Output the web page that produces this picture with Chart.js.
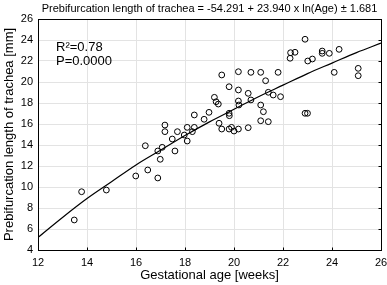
<!DOCTYPE html>
<html>
<head>
<meta charset="utf-8">
<script src="https://cdn.jsdelivr.net/npm/chart.js@4/dist/chart.umd.min.js"></script>
<style>
html,body{margin:0;padding:0;background:#fff;}
#wrap{width:387px;height:285px;}
</style>
</head>
<body>
<div id="wrap"><canvas id="c" width="387" height="285"></canvas></div>
<script>
// Observed data (gestational age in weeks, prebifurcation length in mm)
const ages = [13.48,13.78,14.79,15.99,16.38,16.48,16.89,16.99,16.89,17.07,17.18,17.18,17.48,17.59,17.69,17.97,18.09,18.09,18.30,18.38,18.38,18.78,18.98,19.2,19.27,19.36,19.39,19.5,19.5,19.8,19.8,19.81,19.8,19.9,20.0,20.18,20.18,20.18,20.18,20.2,20.58,20.58,20.69,20.69,21.09,21.09,21.09,21.2,21.29,21.4,21.4,21.6,21.8,21.9,22.29,22.31,22.49,22.9,22.9,23.0,23.01,23.2,23.6,23.6,23.89,24.29,24.09,25.07,25.07];
const lengths = [6.86,9.55,9.71,11.05,13.93,11.62,10.86,12.64,13.43,13.78,15.9,15.27,14.57,13.43,15.27,14.95,15.68,14.38,15.27,15.68,16.86,16.45,17.11,18.54,18.12,17.9,16.07,15.52,20.67,19.55,17.02,16.79,15.52,15.68,15.33,15.52,20.98,19.24,18.19,17.81,18.92,15.65,20.92,18.29,20.92,17.81,16.31,17.17,20.12,19.02,16.22,18.76,20.92,18.6,22.26,22.79,22.83,24.07,17.02,17.02,22.0,22.19,22.95,22.73,22.73,23.11,20.92,21.3,20.6];
// Fitted curve
const fitAges = [12,13,14,15,16,17,18,19,20,21,22,23,24,25,26];
const fitLengths = [5.2,7.1,8.9,10.5,12.1,13.5,14.9,16.2,17.4,18.6,19.7,20.8,21.8,22.8,23.7];
const xTicks = [12,14,16,18,20,22,24,26];
const yTicks = [4,6,8,10,12,14,16,18,20,22,24,26];
const titleText = 'Prebifurcation length of trachea = -54.291 + 23.940 x ln(Age) ± 1.681';
const xTitle = 'Gestational age [weeks]';
const yTitle = 'Prebifurcation length of trachea [mm]';
const statLines = ['R²=0.78','P=0.0000'];

const FONT = '"Liberation Sans", Arial, sans-serif';

const framePlugin = {
  id:'frame',
  afterDraw(chart){
    const {ctx, chartArea:a, scales} = chart;
    ctx.save();
    ctx.strokeStyle = '#000';
    ctx.lineWidth = 1;
    const L = Math.round(a.left)+0.5, T = Math.round(a.top)+0.5;
    const R = Math.round(a.right)+0.5, B = Math.round(a.bottom)+0.5;
    ctx.strokeRect(L, T, R-L, B-T);
    ctx.beginPath();
    yTicks.forEach(v=>{ const y=Math.round(scales.y.getPixelForValue(v))+0.5; ctx.moveTo(R,y); ctx.lineTo(R-3,y); });
    xTicks.forEach(v=>{ const x=Math.round(scales.x.getPixelForValue(v))+0.5; ctx.moveTo(x,B); ctx.lineTo(x,B-3); });
    ctx.stroke();
    ctx.fillStyle = '#000';
    ctx.textBaseline = 'middle';
    ctx.textAlign = 'center';
    ctx.font = '11px ' + FONT;
    ctx.fillText(titleText, (a.left+a.right)/2, 9);
    ctx.font = '13px ' + FONT;
    ctx.textAlign = 'left';
    ctx.fillText(statLines[0], a.left+18, a.top+28);
    ctx.fillText(statLines[1], a.left+18, a.top+42);
    ctx.restore();
  }
};

new Chart(document.getElementById('c'), {
  type:'scatter',
  data:{
    datasets:[
      {
        type:'line',
        data: fitAges.map((x,i)=>({x, y:fitLengths[i]})),
        borderColor:'#000', borderWidth:1.2, pointRadius:0, fill:false,
        cubicInterpolationMode:'monotone', order:2
      },
      {
        data: ages.map((x,i)=>({x, y:lengths[i]})),
        pointStyle:'circle', pointRadius:2.9, borderWidth:1,
        borderColor:'#000', backgroundColor:'rgba(255,255,255,0)', order:1
      }
    ]
  },
  options:{
    responsive:false, animation:false, devicePixelRatio:1,
    layout:{padding:{left:0,right:6,top:19,bottom:0}},
    plugins:{
      legend:{display:false}, tooltip:{enabled:false}, title:{display:false}
    },
    scales:{
      x:{
        type:'linear', min:12, max:26,
        afterBuildTicks(s){ s.ticks = xTicks.map(v=>({value:v})); },
        afterFit(s){ s.height = 35; s.paddingLeft = 0; s.paddingRight = 0; },
        grid:{color:'#e3e3e3', drawTicks:false},
        border:{display:false},
        ticks:{color:'#000', font:{family:FONT,size:11}, padding:6, maxRotation:0},
        title:{display:true, text:xTitle, color:'#000', font:{family:FONT,size:13}, padding:{top:0,bottom:2}}
      },
      y:{
        type:'linear', min:4, max:26,
        afterBuildTicks(s){ s.ticks = yTicks.map(v=>({value:v})); },
        afterFit(s){ s.width = 38; s.paddingTop = 0; s.paddingBottom = 0; },
        grid:{color:'#e3e3e3', drawTicks:false},
        border:{display:false},
        ticks:{color:'#000', font:{family:FONT,size:11}, padding:5},
        title:{display:true, text:yTitle, color:'#000', font:{family:FONT,size:13}, padding:{top:2,bottom:0}}
      }
    }
  },
  plugins:[framePlugin]
});
</script>
</body>
</html>
